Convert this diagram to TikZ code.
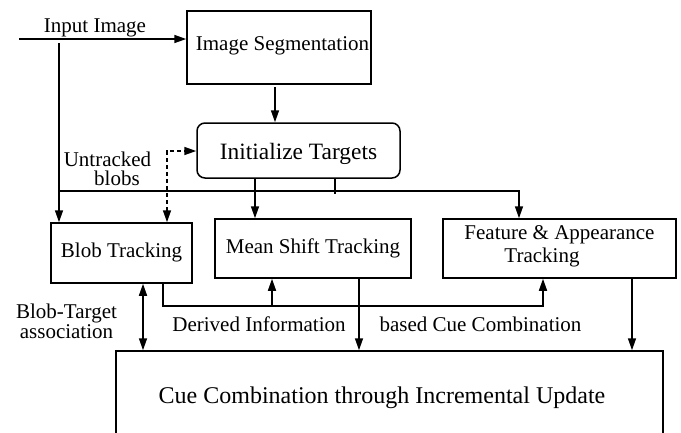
\documentclass[tikz,border=0pt]{standalone}
\usepackage{fontspec}
\setmainfont{Liberation Serif}
\usetikzlibrary{arrows.meta}
\begin{document}
\begin{tikzpicture}[x=1pt,y=-1pt,line width=1.5pt,
  box/.style={draw,line width=1.5pt,inner sep=0pt,font=\fontsize{21}{23}\selectfont},
  lbl/.style={inner sep=0pt,anchor=base,font=\fontsize{21}{23}\selectfont},
  arr/.style={-{Triangle[length=12pt,width=8pt]}},
  darr/.style={{Triangle[length=12pt,width=8pt]}-{Triangle[length=12pt,width=8pt]}},
  dasharr/.style={darr,dash pattern=on 4pt off 3pt}]
\useasboundingbox (0,0) rectangle (681,432);

% boxes
\node[box,minimum width=184pt,minimum height=73pt,text height=15pt,text depth=10pt] (seg) at (279,47.5) {\hspace*{7pt}Image Segmentation};
\node[box,rounded corners=8pt,minimum width=203pt,minimum height=55pt,text height=17pt,text depth=0pt,font=\fontsize{23.4}{26}\selectfont] (init) at (298.5,150.5) {Initialize Targets};
\node[box,minimum width=141pt,minimum height=60pt,text height=15pt,text depth=7pt] (blob) at (121.5,253) {Blob Tracking};
\node[box,minimum width=196pt,minimum height=59pt,text height=15pt,text depth=6pt] (mean) at (313,248.5) {Mean Shift Tracking};
\node[box,minimum width=233pt,minimum height=59pt,align=center,text depth=8pt] (feat) at (559.5,248.5) {Feature \& Appearance\\Tracking\hspace*{35pt}};
\node[box,minimum width=547pt,minimum height=92pt,text height=17pt,text depth=5pt,font=\fontsize{24}{27}\selectfont] (cue) at (389.5,397) {Cue Combination through Incremental Update\hspace*{15pt}};

% labels
\node[lbl] (lin) at (95,32) {Input Image};
\node[lbl,align=center,font=\fontsize{21}{19}\selectfont] (lunt) at (107.5,185) {Untracked\\\hspace*{19pt}blobs};
\node[lbl,align=center,font=\fontsize{21}{20}\selectfont] (lbt) at (66.5,338) {Blob-Target\\association};
\node[lbl] (lder) at (259,331) {Derived Information};
\node[lbl] (lbas) at (480.5,331) {based Cue Combination};

% coordinates
\coordinate (in0) at (19,39);
\coordinate (v0) at (59,43);
\coordinate (s1) at (275,87);
\coordinate (h0) at (59,191);
\coordinate (h1) at (519,191);
\coordinate (xm) at (255,0);
\coordinate (tk) at (335,194);
\coordinate (d0) at (167,151);
\coordinate (xb) at (143,0);
\coordinate (b0) at (163,306);
\coordinate (b1) at (543,306);
\coordinate (xu) at (272,306);
\coordinate (xc) at (359,0);
\coordinate (xf) at (632,0);

% connectors
\draw[arr] (in0) -- (in0 -| seg.west);
\draw[arr] (v0) -- (v0 |- blob.north);
\draw[arr] (s1) -- (s1 |- init.north);
\draw[arr] (init.south -| xm) -- (mean.north -| xm);
\draw (init.south -| tk) -- (tk);
\draw[arr] (h0) -- (h1) -- (h1 |- feat.north);
\draw[dasharr] (d0 |- blob.north) -- (d0) -- (d0 -| init.west);
\draw[darr] (blob.south -| xb) -- (cue.north -| xb);
\draw[arr] (blob.south -| b0) -- (b0) -- (b1) -- (b1 |- feat.south);
\draw[arr] (xu) -- (xu |- mean.south);
\draw[arr] (mean.south -| xc) -- (cue.north -| xc);
\draw[arr] (feat.south -| xf) -- (cue.north -| xf);
\end{tikzpicture}
\end{document}
